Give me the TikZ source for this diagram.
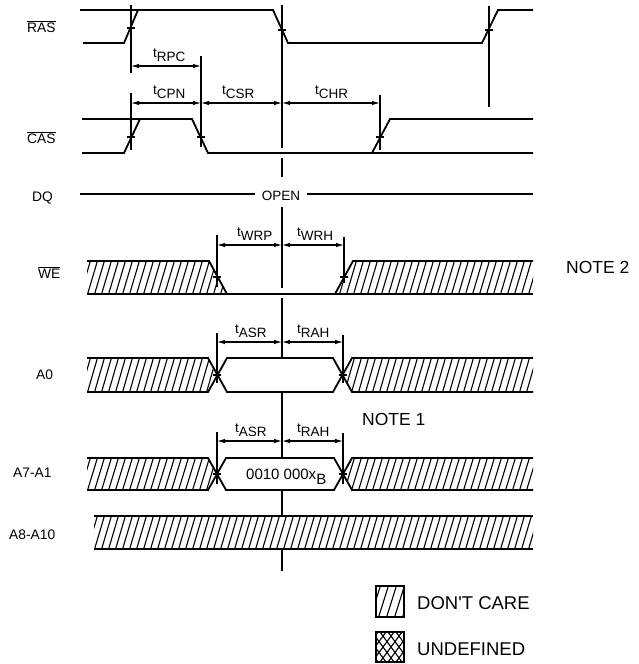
\documentclass[tikz,border=0pt]{standalone}
\usepackage{fontspec}
\setmainfont{Liberation Sans}
\newfontfamily\legfont{Liberation Sans}[Ligatures=TeXOff]
\usetikzlibrary{arrows.meta}
\newcommand{\tsub}[1]{t\raisebox{-4.5pt}{#1}}
\newcommand{\mytick}[2]{\draw[guide] (#1-4,#2) -- (#1+4,#2);}
\begin{document}
\begin{tikzpicture}[x=1pt,y=-1pt,
  sig/.style={line width=1.8pt, line join=miter},
  guide/.style={line width=1.1pt},
  dim/.style={line width=1.1pt, {Latex[length=8pt,width=4.5pt]}-{Latex[length=8pt,width=4.5pt]}},
  hatch/.style={line width=1.1pt},
  lbl/.style={font=\fontsize{13.8}{13.8}\selectfont, inner sep=0pt, anchor=base west},
  tl/.style={font=\fontsize{13.5}{13.5}\selectfont, inner sep=0pt, anchor=base west},
  note/.style={font=\fontsize{17.5}{17.5}\selectfont, inner sep=0pt, anchor=base west},
  leg/.style={font=\legfont\fontsize{18.5}{18.5}\selectfont, inner sep=0pt, anchor=base west},
]
\useasboundingbox (0,0) rectangle (638,664);

% ---------- signal labels ----------
\node[lbl] (lras) at (27,32) {$\overline{\mbox{RAS}}$};
\node[lbl] (lcas) at (27,143) {$\overline{\mbox{CAS}}$};
\node[lbl] (ldq) at (32,201) {DQ};
\node[lbl] (lwe) at (38,278) {$\overline{\mbox{WE}}$};
\node[lbl] (la0) at (36,379) {A0};
\node[lbl] (la71) at (13,477) {A7-A1};
\node[lbl] (la810) at (9,539) {A8-A10};

% ---------- RAS ----------
\draw[sig] (80,10) -- (273,10) -- (288,43) -- (482,43) -- (498,10) -- (533,10);
\draw[sig] (83,43) -- (124,43) -- (138,10);

% ---------- CAS ----------
\draw[sig] (82,119) -- (192,119) -- (208,153) -- (533,153);
\draw[sig] (82,153) -- (124,153) -- (140,119);
\draw[sig] (372,153) -- (390,119) -- (533,119);

% ---------- DQ ----------
\draw[sig] (80,194) -- (255,194);
\draw[sig] (307,194) -- (533,194);
\node[font=\fontsize{13.5}{13.5}\selectfont, inner sep=0pt, anchor=base] (open) at (281,200) {OPEN};

% ---------- WE ----------
\begin{scope}
  \clip (87,261) -- (209,261) -- (227,294) -- (87,294) -- cycle;
  \foreach \x in {73,80,...,240} \draw[hatch] (\x,296) -- (\x+11,259);
\end{scope}
\begin{scope}
  \clip (335,294) -- (353,261) -- (533,261) -- (533,294) -- cycle;
  \foreach \x in {325,332,...,540} \draw[hatch] (\x,296) -- (\x+11,259);
\end{scope}
\draw[sig] (87,261) -- (209,261) -- (227,294);
\draw[sig] (87,294) -- (533,294);
\draw[sig] (335,294) -- (353,261) -- (533,261);

% ---------- A0 ----------
\begin{scope}
  \clip (87,358) -- (208,358) -- (217,375) -- (208,392) -- (87,392) -- cycle;
  \foreach \x in {73,80,...,230} \draw[hatch] (\x,394) -- (\x+11,356);
\end{scope}
\begin{scope}
  \clip (343,375) -- (352,358) -- (533,358) -- (533,392) -- (352,392) -- cycle;
  \foreach \x in {330,337,...,540} \draw[hatch] (\x,394) -- (\x+11,356);
\end{scope}
\draw[sig] (87,358) -- (208,358) -- (227,392) -- (333,392) -- (352,358) -- (533,358);
\draw[sig] (87,392) -- (208,392) -- (227,358) -- (333,358) -- (352,392) -- (533,392);

% ---------- A7-A1 ----------
\begin{scope}
  \clip (87,458) -- (208,458) -- (217,474) -- (208,490) -- (87,490) -- cycle;
  \foreach \x in {73,80,...,230} \draw[hatch] (\x,492) -- (\x+11,456);
\end{scope}
\begin{scope}
  \clip (343,474) -- (352,458) -- (533,458) -- (533,490) -- (352,490) -- cycle;
  \foreach \x in {330,337,...,540} \draw[hatch] (\x,492) -- (\x+11,456);
\end{scope}
\draw[sig] (87,458) -- (208,458) -- (226,490) -- (334,490) -- (352,458) -- (533,458);
\draw[sig] (87,490) -- (208,490) -- (226,458) -- (334,458) -- (352,490) -- (533,490);
\node[font=\fontsize{15}{15}\selectfont, inner sep=0pt, anchor=base west] (addr) at (246,479) {0010 000x\raisebox{-5pt}{B}};

% ---------- A8-A10 ----------
\begin{scope}
  \clip (94,516) rectangle (533,549);
  \foreach \x in {80,87,...,540} \draw[hatch] (\x,551) -- (\x+11,514);
\end{scope}
\draw[sig] (94,516) -- (533,516);
\draw[sig] (94,549) -- (533,549);

% ---------- reference verticals ----------
\draw[guide] (131,5) -- (131,73);
\draw[guide] (489,6) -- (489,107);
\draw[guide] (131,93) -- (131,150);
\draw[guide] (201,56) -- (201,147);
\draw[guide] (380,95) -- (380,150);
\draw[guide] (217,235) -- (217,287);
\draw[guide] (344,237) -- (344,283);
\draw[guide] (217,333) -- (217,383);
\draw[guide] (343,335) -- (343,383);
\draw[guide] (217,432) -- (217,484);
\draw[guide] (343,433) -- (343,484);
% central line
\draw[guide] (282,5) -- (282,148);
\draw[guide] (282,158) -- (282,177);
\draw[guide] (282,207) -- (282,288);
\draw[guide] (282,298) -- (282,358);
\draw[guide] (282,392) -- (282,458);
\draw[guide] (282,490) -- (282,516);
\draw[guide] (282,549) -- (282,571);

% ticks
\mytick{131}{28}
\mytick{282}{30}
\mytick{489}{30}
\mytick{131}{137}
\mytick{201}{137}
\mytick{380}{137}
\mytick{217}{277}
\mytick{344}{277}
\mytick{217}{375}
\mytick{343}{375}
\mytick{217}{474}
\mytick{343}{474}

% ---------- dimension arrows and labels ----------
\draw[dim] (131,66) -- (201,66);
\node[tl] (trpc) at (153,57) {\tsub{RPC}};
\draw[dim] (131,103) -- (201,103);
\node[tl] (tcpn) at (153,94) {\tsub{CPN}};
\draw[dim] (201,103) -- (282,103);
\node[tl] (tcsr) at (222,94) {\tsub{CSR}};
\draw[dim] (282,103) -- (380,103);
\node[tl] (tchr) at (315,94) {\tsub{CHR}};
\draw[dim] (217,245) -- (282,245);
\node[tl] (twrp) at (237,236) {\tsub{WRP}};
\draw[dim] (282,245) -- (344,245);
\node[tl] (twrh) at (297,236) {\tsub{WRH}};
\draw[dim] (217,342) -- (282,342);
\node[tl] (tasra) at (235,333) {\tsub{ASR}};
\draw[dim] (282,342) -- (343,342);
\node[tl] (traha) at (297,333) {\tsub{RAH}};
\draw[dim] (217,441) -- (282,441);
\node[tl] (tasrb) at (235,432) {\tsub{ASR}};
\draw[dim] (282,441) -- (343,441);
\node[tl] (trahb) at (297,432) {\tsub{RAH}};

% ---------- notes ----------
\node[note] (note2) at (566,273) {NOTE 2};
\node[note] (note1) at (362,425) {NOTE 1};

% ---------- legend ----------
\begin{scope}
  \clip (376,586) rectangle (404,617);
  \foreach \x in {362,370,...,410} \draw[hatch] (\x,619) -- (\x+11,584);
\end{scope}
\draw[guide, line width=1.4pt] (376,586) rectangle (404,617);
\node[leg] (ldc) at (417,609) {DON'T CARE};
\begin{scope}
  \clip (376,632) rectangle (404,662);
  \foreach \x in {356,364,...,410} {
    \draw[hatch] (\x,662) -- (\x+22,632);
    \draw[hatch] (\x,632) -- (\x+22,662);
  }
\end{scope}
\draw[guide, line width=1.4pt] (376,632) rectangle (404,662);
\node[leg] (lud) at (417,655) {UNDEFINED};
\end{tikzpicture}
\end{document}
